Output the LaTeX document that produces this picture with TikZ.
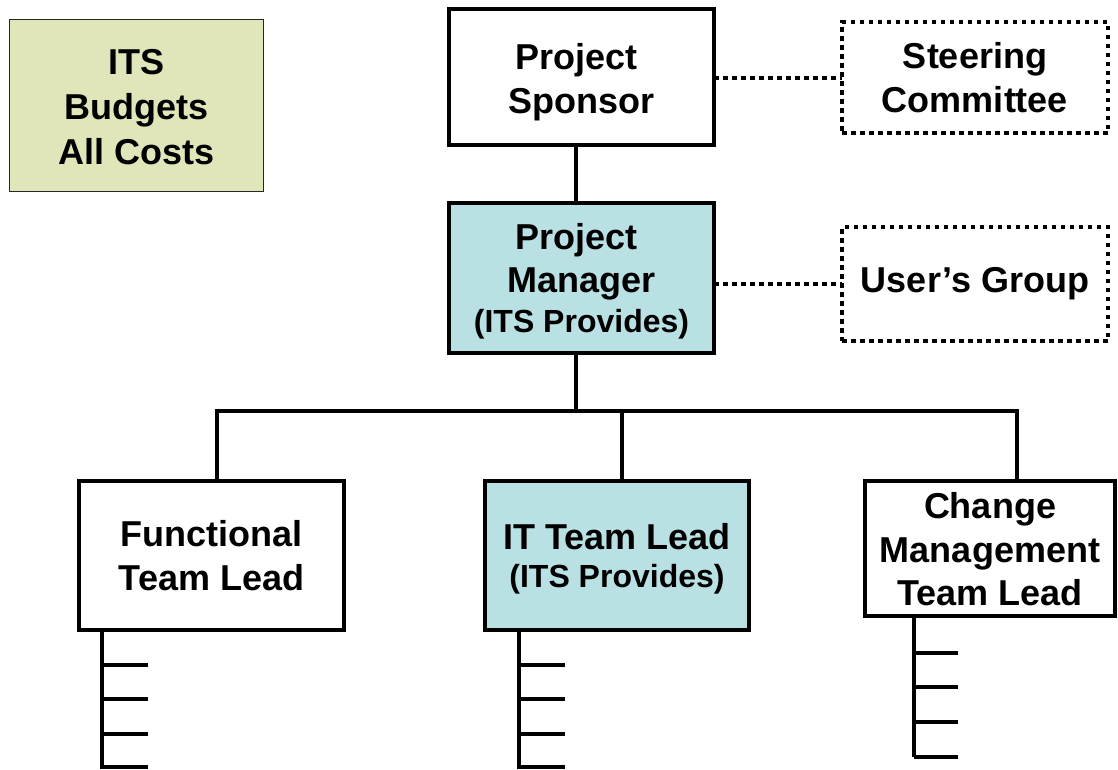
\documentclass[tikz,border=0pt]{standalone}
\usepackage{fontspec}
\setmainfont{Liberation Sans}
\usetikzlibrary{calc}
\definecolor{budgetfill}{RGB}{224,230,185}
\definecolor{itsfill}{RGB}{185,224,227}
\begin{document}
\begin{tikzpicture}[x=1pt,y=-1pt,
  box/.style={draw=black,line width=4pt,rectangle,inner sep=0pt,outer sep=0pt},
  dotbox/.style={box,dash pattern=on 4.5pt off 4.5pt},
  txt/.style={inner sep=0pt,align=center,font=\fontsize{36}{43.5}\selectfont\bfseries},
  link/.style={draw=black,line width=4pt},
  dotlink/.style={link,dash pattern=on 4.5pt off 4.5pt}]
\useasboundingbox (0,0) rectangle (1118,769);
\newcommand{\prov}{{\fontsize{32}{43.5}\selectfont (ITS Provides)}}

% budget note
\node[box,line width=1.2pt,draw=black!85,fill=budgetfill,minimum width=254pt,minimum height=172pt]
  (its) at (136.5,105.5) {};
\node[txt,font=\fontsize{36}{45}\selectfont\bfseries] (itsT) at ($(its)+(0,1.5)$) {ITS\\Budgets\\All Costs};

% main chain
\node[box,minimum width=265pt,minimum height=136pt] (sp) at (581.5,77) {};
\node[txt] (spT) at ($(sp)+(0,5)$) {Project\hspace*{10pt}\\Sponsor};
\node[box,fill=itsfill,minimum width=265pt,minimum height=150pt] (mgr) at (581.5,278) {};
\node[txt] (mgrT) at ($(mgr)+(0,3)$) {Project\hspace*{10pt}\\Manager\\[-4pt]\prov};

% advisory groups
\node[dotbox,minimum width=266pt,minimum height=111pt] (st) at (975,77.5) {};
\node[txt] (stT) at (st) {Steering\\Committee};
\node[dotbox,minimum width=266pt,minimum height=114pt] (ug) at (975,284) {};
\node[txt] (ugT) at (ug) {User’s Group};

% team leads
\node[box,minimum width=265pt,minimum height=149pt] (fn) at (211.5,555.5) {};
\node[txt] (fnT) at (fn) {Functional\\Team Lead};
\node[box,fill=itsfill,minimum width=264pt,minimum height=149pt] (it) at (617,555.5) {};
\node[txt] (itT) at ($(it)+(0,3.5)$) {IT Team Lead\\[-6pt]\prov};
\node[box,minimum width=250pt,minimum height=135pt] (ch) at (990,548.5) {};
\node[txt] (chT) at ($(ch)+(0,1)$) {Change\\Management\\Team Lead};

% junction points
\coordinate (j) at (576,411);
\coordinate (bl) at (217,411);
\coordinate (bm) at (622,411);
\coordinate (br) at (1017,411);

% hierarchy connectors
\draw[link] (sp.south -| j) -- (mgr.north -| j);
\draw[link] (mgr.south -| j) -- (j);
\draw[link,line cap=rect] (bl) -- (br);
\draw[link] (bl) -- (fn.north -| bl);
\draw[link] (bm) -- (it.north -| bm);
\draw[link] (br) -- (ch.north -| br);

% dotted advisory links
\draw[dotlink] (sp.east |- st.west) -- (st.west);
\draw[dotlink] (mgr.east |- ug.west) -- (ug.west);

% staff stubs below the team leads
\coordinate (fs) at (102,769);
\coordinate (is) at (519,769);
\coordinate (cs) at (914,757);
\draw[link] (fn.south -| fs) -- (fs);
\draw[link] (it.south -| is) -- (is);
\draw[link] (ch.south -| cs) -- (cs);
\foreach \yy in {665,699,734,767} {
  \draw[link] (102,\yy) -- (148,\yy);
  \draw[link] (519,\yy) -- (565,\yy);
}
\foreach \yy in {653,687,722,757} {
  \draw[link] (914,\yy) -- (958,\yy);
}
\end{tikzpicture}
\end{document}
